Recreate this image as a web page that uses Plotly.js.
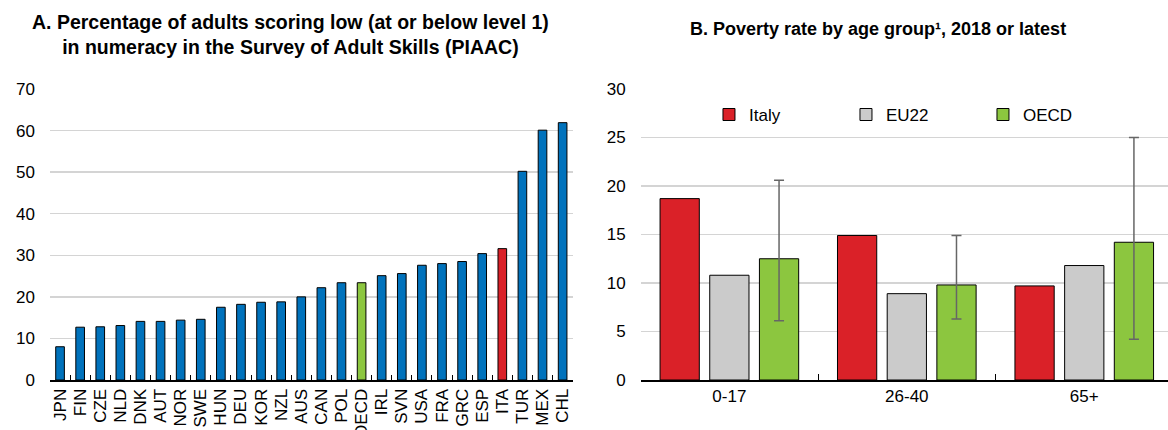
<!DOCTYPE html>
<html>
<head>
<meta charset="utf-8">
<script src="https://cdn.plot.ly/plotly-3.0.1.min.js"></script>
<style>html,body{margin:0;padding:0;background:#fff;}#chart{width:1168px;height:430px;}</style>
</head>
<body>
<div id="chart"></div>
<script>
// Panel A data
const countries = ['JPN','FIN','CZE','NLD','DNK','AUT','NOR','SWE','HUN','DEU','KOR','NZL','AUS','CAN','POL','OECD','IRL','SVN','USA','FRA','GRC','ESP','ITA','TUR','MEX','CHL'];
const lowNumeracy = [8.0,12.7,12.8,13.1,14.1,14.1,14.4,14.6,17.5,18.2,18.7,18.8,20.0,22.2,23.4,23.4,25.1,25.6,27.6,28.0,28.5,30.4,31.6,50.2,60.1,61.9];

// Panel B data
const ageGroups = ['0-17','26-40','65+'];
const italy = [18.7,14.9,9.7];
const eu22 = [10.8,8.9,11.8];
const oecd = [12.5,9.8,14.2];
const oecdMax = [20.6,14.9,25.0];
const oecdMin = [6.1,6.3,4.2];

const BLUE='#0072BC', RED='#DA2128', GREEN='#8CC63F', GREY='#CBCBCB';
const barColorsA = countries.map(c => c==='OECD' ? GREEN : (c==='ITA' ? RED : BLUE));

const FONT = 'Liberation Sans, Arial, sans-serif';

const traces = [
  {type:'bar', x:countries, y:lowNumeracy, xaxis:'x', yaxis:'y', width:0.43,
   marker:{color:barColorsA, line:{color:'#000', width:1}}, showlegend:false, hoverinfo:'x+y'},
  {type:'bar', name:'Italy', x:ageGroups, y:italy, xaxis:'x2', yaxis:'y2',
   marker:{color:RED, line:{color:'#000', width:1}}},
  {type:'bar', name:'EU22', x:ageGroups, y:eu22, xaxis:'x2', yaxis:'y2',
   marker:{color:GREY, line:{color:'#000', width:1}}},
  {type:'bar', name:'OECD', x:ageGroups, y:oecd, xaxis:'x2', yaxis:'y2',
   marker:{color:GREEN, line:{color:'#000', width:1}},
   error_y:{type:'data', symmetric:false,
     array:oecdMax.map((v,i)=>v-oecd[i]), arrayminus:oecd.map((v,i)=>v-oecdMin[i]),
     color:'#666', thickness:1.5, width:5}}
];

const yPx = p => (380.5 - p) / 291.5;

const layout = {
  width:1168, height:430,
  margin:{l:0, r:0, t:89, b:49.5, autoexpand:false},
  paper_bgcolor:'#fff', plot_bgcolor:'#fff',
  font:{family:FONT, size:17, color:'#000'},
  barmode:'group', bargap:0.16, bargroupgap:0.21,
  xaxis:{domain:[0.0428,0.4903], range:[-0.5,25.5], tickangle:-90,
    tickmode:'array', tickvals:countries, ticktext:countries,
    showline:true, linecolor:'#000', linewidth:2, ticks:'inside', ticklen:5, tickcolor:'#000',
    tickson:'boundaries', showgrid:false, tickfont:{size:17}, ticklabelstandoff:0},
  yaxis:{range:[0,70], dtick:10, showgrid:true, gridcolor:'#D4D4D4', gridwidth:1.3,
    zeroline:false, showline:false, ticks:'', ticklabelstandoff:14, tickfont:{size:17}},
  xaxis2:{domain:[0.5485,1.0], range:[-0.5,2.472],
    showline:true, linecolor:'#000', linewidth:2, ticks:'inside', ticklen:6, tickcolor:'#000',
    tickson:'boundaries', showgrid:false, tickfont:{size:17}},
  yaxis2:{anchor:'x2', range:[0,30], dtick:5, showgrid:true, gridcolor:'#D4D4D4', gridwidth:1.3,
    zeroline:false, showline:false, ticks:'', ticklabelstandoff:14, tickfont:{size:17}},
  showlegend:true,
  legend:{orientation:'h', x:0.607, xanchor:'left', y:yPx(115), yanchor:'middle',
    entrywidth:92, entrywidthmode:'pixels', bgcolor:'rgba(0,0,0,0)', font:{size:17},
    traceorder:'normal'},
  annotations:[
    {text:'A. Percentage of adults scoring low (at or below level 1)<br>in numeracy in the Survey of Adult Skills (PIAAC)',
     xref:'paper', yref:'paper', x:290.5/1168, y:yPx(34), xanchor:'center', yanchor:'middle',
     showarrow:false, font:{family:FONT, size:19.5, weight:'bold', color:'#000'}},
    {text:'B. Poverty rate by age group¹, 2018 or latest',
     xref:'paper', yref:'paper', x:878/1168, y:yPx(29), xanchor:'center', yanchor:'middle',
     showarrow:false, font:{family:FONT, size:18, weight:'bold', color:'#000'}}
  ]
};

Plotly.newPlot('chart', traces, layout, {displayModeBar:false, staticPlot:true});
</script>
</body>
</html>
